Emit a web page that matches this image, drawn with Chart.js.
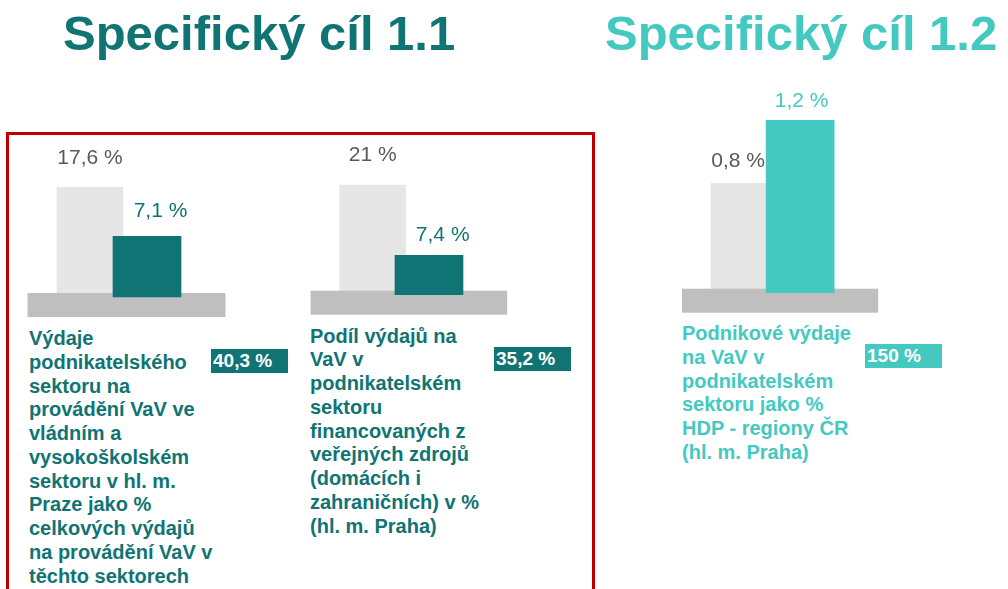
<!DOCTYPE html>
<html lang="cs">
<head>
<meta charset="utf-8">
<script src="https://cdn.jsdelivr.net/npm/chart.js@4"></script>
<style>
  body { margin: 0; background: #fff; }
  #page { position: relative; width: 1008px; height: 589px; overflow: hidden; font-family: "Liberation Sans", Arial, sans-serif; }
  .title { position: absolute; top: 8.5px; font-size: 49px; line-height: 49px; font-weight: bold; white-space: nowrap; }
  .desc { position: absolute; font-size: 20px; line-height: 23.75px; font-weight: bold; white-space: nowrap; }
  .badge { position: absolute; width: 77px; height: 24px; line-height: 24px; padding-left: 2px; box-sizing: border-box; color: #fff; font-size: 19px; font-weight: bold; white-space: nowrap; }
  #frame { position: absolute; left: 6px; top: 132px; width: 583px; height: 500px; border: 3px solid #c00000; }
  canvas { position: absolute; top: 80px; }
</style>
</head>
<body>
<div id="page">
  <div class="title" style="left:63px; color:#0f7473">Specifický cíl 1.1</div>
  <div class="title" style="left:605px; color:#44c9c1">Specifický cíl 1.2</div>
  <div id="frame"></div>
  <canvas id="chart1" width="240" height="240" style="left:10px"></canvas>
  <canvas id="chart2" width="240" height="240" style="left:300px"></canvas>
  <canvas id="chart3" width="240" height="240" style="left:660px"></canvas>
  <div class="desc" id="desc1" style="left:29px; top:327px; color:#0f7473"></div>
  <div class="desc" id="desc2" style="left:310px; top:324.6px; color:#0f7473"></div>
  <div class="desc" id="desc3" style="left:682px; top:322.2px; color:#44c9c1"></div>
  <div class="badge" id="badge1" style="left:211px; top:349px; background:#0f7473"></div>
  <div class="badge" id="badge2" style="left:494px; top:346.5px; background:#0f7473"></div>
  <div class="badge" id="badge3" style="left:865px; top:344px; background:#44c9c1"></div>
</div>
<script>
// hodnoty ukazatelů
const categories = ['Cílová hodnota', 'Dosažená hodnota'];
const targetValues = [17.6, 21, 0.8];
const actualValues = [7.1, 7.4, 1.2];
const fulfilment = [40.3, 35.2, 150];

const descriptions1 = ['Výdaje', 'podnikatelského', 'sektoru na', 'provádění VaV ve', 'vládním a',
  'vysokoškolském', 'sektoru v hl. m.', 'Praze jako %', 'celkových výdajů', 'na provádění VaV v', 'těchto sektorech'];
const descriptions2 = ['Podíl výdajů na', 'VaV v', 'podnikatelském', 'sektoru', 'financovaných z',
  'veřejných zdrojů', '(domácích i', 'zahraničních) v %', '(hl. m. Praha)'];
const descriptions3 = ['Podnikové výdaje', 'na VaV v', 'podnikatelském', 'sektoru jako %',
  'HDP - regiony ČR', '(hl. m. Praha)'];

const fmt = v => String(v).replace('.', ',') + ' %';

document.getElementById('desc1').innerHTML = descriptions1.join('<br>');
document.getElementById('desc2').innerHTML = descriptions2.join('<br>');
document.getElementById('desc3').innerHTML = descriptions3.join('<br>');
['badge1', 'badge2', 'badge3'].forEach((id, i) => {
  document.getElementById(id).textContent = fmt(fulfilment[i]);
});

// šedý podstavec pod sloupci (mezi šedým a barevným sloupcem)
const basePlate = {
  id: 'basePlate',
  beforeDatasetDraw(chart, args) {
    if (args.index !== 0) return;
    const a = chart.chartArea;
    const ctx = chart.ctx;
    ctx.save();
    ctx.fillStyle = '#bfbfbf';
    ctx.fillRect(a.left - 34, a.bottom - 4, a.right - a.left + 84, 24);
    ctx.restore();
  }
};

// popisky hodnot nad sloupci
const valueLabels = {
  id: 'valueLabels',
  afterDatasetsDraw(chart, args, opts) {
    const ctx = chart.ctx;
    ctx.save();
    ctx.font = '21px "Liberation Sans", Arial, sans-serif';
    ctx.textAlign = 'center';
    ctx.textBaseline = 'middle';
    chart.data.datasets.forEach((ds, i) => {
      const meta = chart.getDatasetMeta(i);
      const off = opts.offsets[i];
      meta.data.forEach((el, j) => {
        const v = ds.data[j];
        if (v === null) return;
        ctx.fillStyle = ds.labelColor;
        ctx.fillText(fmt(v), el.x + off.dx, el.y - off.dy);
      });
    });
    ctx.restore();
  }
};

function makeChart(id, i, color, yMin, yMax, padding, offsets) {
  return new Chart(document.getElementById(id), {
    type: 'bar',
    data: {
      labels: categories,
      datasets: [
        {
          label: categories[1],
          data: [null, actualValues[i]],
          backgroundColor: color,
          labelColor: color,
          barThickness: 68,
          base: yMin,
          clip: false
        },
        {
          label: categories[0],
          data: [targetValues[i], null],
          backgroundColor: '#e6e6e6',
          labelColor: '#595959',
          barThickness: 66,
          base: yMin,
          clip: false
        }
      ]
    },
    options: {
      responsive: false,
      animation: false,
      layout: { padding: padding },
      datasets: { bar: { grouped: false } },
      scales: {
        x: { display: false },
        y: { display: false, min: yMin, max: yMax }
      },
      plugins: {
        legend: { display: false },
        tooltip: { enabled: false },
        valueLabels: { offsets: offsets }
      }
    },
    plugins: [basePlate, valueLabels]
  });
}

makeChart('chart1', 0, '#0f7473', -5.9, 40.6,
  { left: 51.5, right: 74.5, top: 0, bottom: 23 },
  [{ dx: 13.5, dy: 25.3 }, { dx: 0, dy: 29.6 }]);
makeChart('chart2', 1, '#0f7473', -0.22, 41.32,
  { left: 44.55, right: 82.85, top: 0, bottom: 25.3 },
  [{ dx: 13.7, dy: 20.3 }, { dx: 0, dy: 30 }]);
makeChart('chart3', 2, '#44c9c1', 0.105, 1.4555,
  { left: 56, right: 71.8, top: 0, bottom: 27.3 },
  [{ dx: 1.5, dy: 19.3 }, { dx: -6, dy: 22 }]);
</script>
</body>
</html>
